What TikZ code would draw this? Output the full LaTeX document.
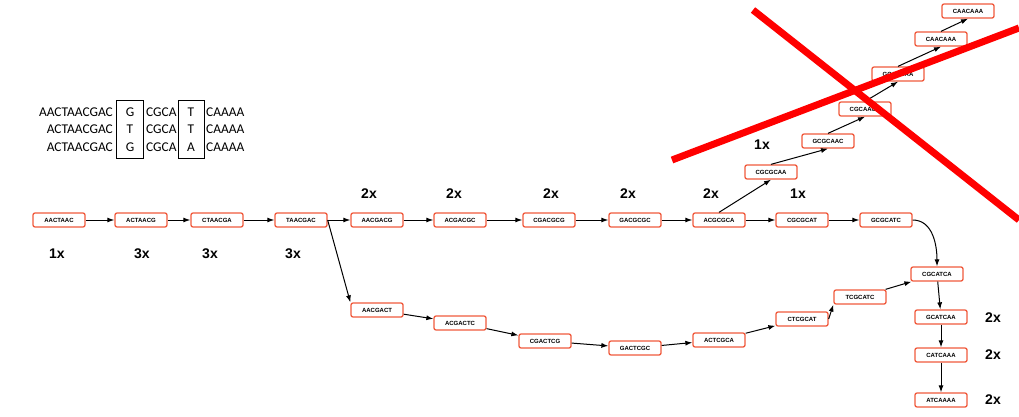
\documentclass[tikz,border=0pt]{standalone}
\usepackage{fontspec}
\setmainfont{Liberation Sans}
\newfontfamily\alnfont{Carlito}
\usetikzlibrary{arrows.meta}
\definecolor{kmerred}{RGB}{240,90,60}
\tikzset{
    kmer/.style={draw=kmerred, line width=1.3pt, rounded corners=2pt, fill=white,
        minimum width=52pt, minimum height=14pt, inner sep=0pt,
        font=\fontsize{6}{6}\selectfont\bfseries},
    count/.style={font=\fontsize{14}{16}\selectfont\bfseries},
    edge/.style={-{Latex[length=7pt,width=5pt]}, line width=1pt},
    aln/.style={font=\alnfont\fontsize{13.4}{14}\selectfont, inner sep=0pt},
    cross/.style={draw=red, line width=7pt}
}
\begin{document}
\begin{tikzpicture}[x=1pt, y=-1pt]
    \useasboundingbox (0,0) rectangle (1019,417);
    % alignment of the three reads
    \foreach \y/\p/\a/\b in {112/AACTAACGAC/G/T, 129/ACTAACGAC/T/T, 147/ACTAACGAC/G/A} {
        \node[aln, anchor=east] (pre\y) at (113,\y) {\p};
        \node[aln] (snpa\y) at (130,\y) {\a};
        \node[aln, anchor=west] (mid\y) at (146,\y) {CGCA};
        \node[aln] (snpb\y) at (191,\y) {\b};
        \node[aln, anchor=west] (suf\y) at (206,\y) {CAAAA};
    }
    \draw[line width=1pt] (116,101) rectangle (143,158);
    \draw[line width=1pt] (178,101) rectangle (204,158);
    % main path
    \node[kmer] (aactaac) at (59,220) {AACTAAC};
    \node[kmer] (actaacg) at (141,220) {ACTAACG};
    \node[kmer] (ctaacga) at (217,220) {CTAACGA};
    \node[kmer] (taacgac) at (301,220) {TAACGAC};
    \node[kmer] (aacgacg) at (377,220) {AACGACG};
    \node[kmer] (acgacgc) at (460,220) {ACGACGC};
    \node[kmer] (cgacgcg) at (549,220) {CGACGCG};
    \node[kmer] (gacgcgc) at (635,220) {GACGCGC};
    \node[kmer] (acgcgca) at (719,220) {ACGCGCA};
    \node[kmer] (cgcgcat) at (802,220) {CGCGCAT};
    \node[kmer] (gcgcatc) at (886,220) {GCGCATC};
    % lower path
    \node[kmer] (aacgact) at (377,310) {AACGACT};
    \node[kmer] (acgactc) at (460,323) {ACGACTC};
    \node[kmer] (cgactcg) at (545,341) {CGACTCG};
    \node[kmer] (gactcgc) at (635,348) {GACTCGC};
    \node[kmer] (actcgca) at (719,340) {ACTCGCA};
    \node[kmer] (ctcgcat) at (802,319) {CTCGCAT};
    \node[kmer] (tcgcatc) at (860,297) {TCGCATC};
    \node[kmer] (cgcatca) at (937,274) {CGCATCA};
    \node[kmer] (gcatcaa) at (941,317) {GCATCAA};
    \node[kmer] (catcaaa) at (941,355) {CATCAAA};
    \node[kmer] (atcaaaa) at (941,400) {ATCAAAA};
    % upper branch
    \node[kmer] (cgcgcaa) at (771,172) {CGCGCAA};
    \node[kmer] (gcgcaac) at (828,141) {GCGCAAC};
    \node[kmer] (cgcaaca) at (865,109) {CGCAACA};
    \node[kmer] (gcaacaa) at (898,74) {GCAACAA};
    \node[kmer] (caacaaa) at (941,39) {CAACAAA};
    \node[kmer] (caacaaatop) at (968,11) {CAACAAA};
    % counts
    \node[count] (c1) at (57,254) {1x};
    \node[count] (c2) at (142,254) {3x};
    \node[count] (c3) at (210,254) {3x};
    \node[count] (c4) at (293,254) {3x};
    \node[count] (c5) at (369,194) {2x};
    \node[count] (c6) at (454,194) {2x};
    \node[count] (c7) at (551,194) {2x};
    \node[count] (c8) at (628,194) {2x};
    \node[count] (c9) at (711,194) {2x};
    \node[count] (c10) at (798,194) {1x};
    \node[count] (c11) at (762,145) {1x};
    \node[count] (c12) at (993,318) {2x};
    \node[count] (c13) at (993,355) {2x};
    \node[count] (c14) at (993,400) {2x};
    % edges
    \draw[edge] (aactaac) -- (actaacg);
    \draw[edge] (actaacg) -- (ctaacga);
    \draw[edge] (ctaacga) -- (taacgac);
    \draw[edge] (taacgac) -- (aacgacg);
    \draw[edge] (aacgacg) -- (acgacgc);
    \draw[edge] (acgacgc) -- (cgacgcg);
    \draw[edge] (cgacgcg) -- (gacgcgc);
    \draw[edge] (gacgcgc) -- (acgcgca);
    \draw[edge] (acgcgca) -- (cgcgcat);
    \draw[edge] (cgcgcat) -- (gcgcatc);
    \draw[edge] (gcgcatc.east) to[out=0, in=90] (cgcatca.north);
    \draw[edge] (taacgac.east) -- (aacgact.north west);
    \draw[edge] (aacgact) -- (acgactc);
    \draw[edge] (acgactc) -- (cgactcg);
    \draw[edge] (cgactcg) -- (gactcgc);
    \draw[edge] (gactcgc) -- (actcgca);
    \draw[edge] (actcgca) -- (ctcgcat);
    \draw[edge] (ctcgcat.east) -- (tcgcatc.south west);
    \draw[edge] (tcgcatc) -- (cgcatca);
    \draw[edge] (cgcatca) -- (gcatcaa);
    \draw[edge] (gcatcaa) -- (catcaaa);
    \draw[edge] (catcaaa) -- (atcaaaa);
    \draw[edge] (acgcgca.north) -- (cgcgcaa.south);
    \draw[edge] (cgcgcaa.north) -- (gcgcaac.south);
    \draw[edge] (gcgcaac.north) -- (cgcaaca.south);
    \draw[edge] (cgcaaca.north) -- (gcaacaa.south);
    \draw[edge] (gcaacaa.north) -- (caacaaa.south);
    \draw[edge] (caacaaa.north) -- (caacaaatop.south);
    % crossed out branch
    \coordinate (xa) at (753,10);
    \coordinate (xb) at (1019,220);
    \coordinate (xc) at (672,160);
    \coordinate (xd) at (1019,28);
    \draw[cross] (xa) -- (xb);
    \draw[cross] (xc) -- (xd);
\end{tikzpicture}
\end{document}
